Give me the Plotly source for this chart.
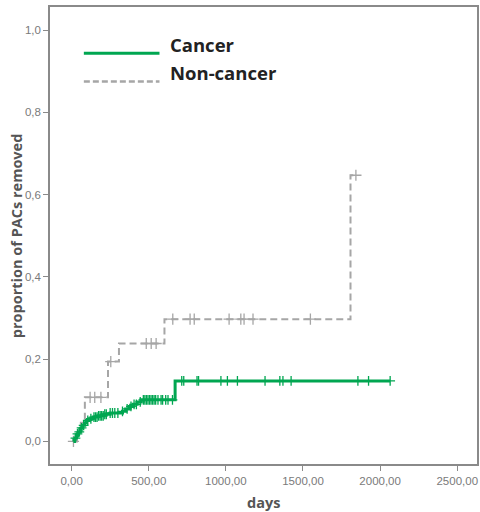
import numpy as np
import plotly.graph_objects as go

# ---- data ----
cancer_event_days = [12, 15, 22, 30, 38, 46, 54, 62, 72, 85, 97, 115, 140, 170, 210, 250,
                     330, 350, 375, 400, 425, 450, 671]
cancer_cum = [0.0, 0.004, 0.008, 0.013, 0.018, 0.023, 0.028, 0.033, 0.039, 0.045, 0.051,
              0.055, 0.059, 0.062, 0.066, 0.069, 0.073, 0.079, 0.085, 0.090, 0.096, 0.101, 0.147]
cancer_censor_days = [25, 38, 50, 65, 78, 105, 125, 145, 155, 165, 175, 185, 195, 205, 215,
                      225, 250, 265, 280, 300, 330, 360, 385, 405, 420, 445, 465, 475, 485,
                      495, 505, 515, 525, 535, 545, 560, 580, 590, 610, 625, 654, 714, 727,
                      813, 823, 968, 1010, 1075, 1254, 1350, 1370, 1423, 1856, 1925, 2065]

noncancer_event_days = [12, 35, 60, 86, 236, 307, 602, 1808]
noncancer_cum = [0.0, 0.022, 0.045, 0.107, 0.194, 0.238, 0.297, 0.647]
noncancer_censor_days = [12, 120, 150, 190, 254, 484, 516, 548, 656, 768, 795, 1021,
                         1097, 1118, 1176, 1548, 1843]

x_ticks = [0, 500, 1000, 1500, 2000, 2500]
y_ticks = [0.0, 0.2, 0.4, 0.6, 0.8, 1.0]

GREEN = "#00A651"
GRAY = "#A6A6A6"


def step_at(days, ev_days, cum):
    idx = np.searchsorted(np.array(ev_days), np.array(days), side="right") - 1
    idx = np.clip(idx, 0, len(cum) - 1)
    return np.array(cum)[idx]


fig = go.Figure()

for ev, cum, cens, color, dash, width, msize in [
    (noncancer_event_days, noncancer_cum, noncancer_censor_days, GRAY, "7px,4px", 2, 8),
    (cancer_event_days, cancer_cum, cancer_censor_days, GREEN, "solid", 3, 7),
]:
    xs = list(ev) + [max(cens)]
    ys = list(cum) + [cum[-1]]
    fig.add_trace(go.Scatter(x=xs, y=ys, mode="lines", line=dict(shape="hv", color=color,
                                                                  width=width, dash=dash),
                             showlegend=False, hoverinfo="skip"))
    fig.add_trace(go.Scatter(x=cens, y=step_at(cens, ev, cum), mode="markers",
                             marker=dict(symbol="cross-thin", size=msize,
                                         line=dict(width=1.3, color=color)),
                             showlegend=False, hoverinfo="skip"))

# legend drawn manually
def px_x(p):
    return (p - 50) / 429.0


def px_y(p):
    return (464 - p) / 457.0


fig.add_shape(type="line", xref="paper", yref="paper", x0=px_x(84), x1=px_x(160),
              y0=px_y(53.3), y1=px_y(53.3), line=dict(color=GREEN, width=3))
fig.add_shape(type="line", xref="paper", yref="paper", x0=px_x(84), x1=px_x(160),
              y0=px_y(81.5), y1=px_y(81.5), line=dict(color=GRAY, width=2.5, dash="6px,3px"))
fig.add_annotation(text="Cancer", xref="paper", yref="paper", x=px_x(169), y=px_y(45),
                   xanchor="left", yanchor="middle", showarrow=False,
                   font=dict(family="Open Sans", size=18.5, color="#222222", weight="bold"))
fig.add_annotation(text="Non-cancer", xref="paper", yref="paper", x=px_x(169), y=px_y(72.5),
                   xanchor="left", yanchor="middle", showarrow=False,
                   font=dict(family="Open Sans", size=18.5, color="#222222", weight="bold"))

# axis titles
fig.add_annotation(text="proportion of PACs removed", xref="paper", yref="paper",
                   x=px_x(16), y=px_y(236), textangle=-90, showarrow=False,
                   xanchor="center", yanchor="middle",
                   font=dict(family="Open Sans", size=14.5, color="#555555", weight="bold"))
fig.add_annotation(text="days", xref="paper", yref="paper",
                   x=px_x(265), y=px_y(502), showarrow=False,
                   xanchor="center", yanchor="middle",
                   font=dict(family="Open Sans", size=14.5, color="#555555", weight="bold"))

axis_common = dict(showgrid=False, zeroline=False, showline=True, linecolor="#8a8a8a",
                   linewidth=1.5, mirror=True, ticks="outside", ticklen=5, tickcolor="#8a8a8a",
                   tickfont=dict(family="Liberation Sans", size=11.5, color="#7a7a7a"))

fig.update_xaxes(range=[-140, 2628], tickvals=x_ticks, tickformat=".2f", **axis_common)
fig.update_yaxes(range=[-0.055, 1.056], tickvals=y_ticks, tickformat=".1f", **axis_common)

fig.update_layout(width=480, height=512, margin=dict(l=50, r=1, t=7, b=48),
                  plot_bgcolor="white", paper_bgcolor="white", separators=",.",
                  showlegend=False)

fig.write_html("out.html", config={"displayModeBar": False},
               post_script="document.body.style.margin='0px';")
